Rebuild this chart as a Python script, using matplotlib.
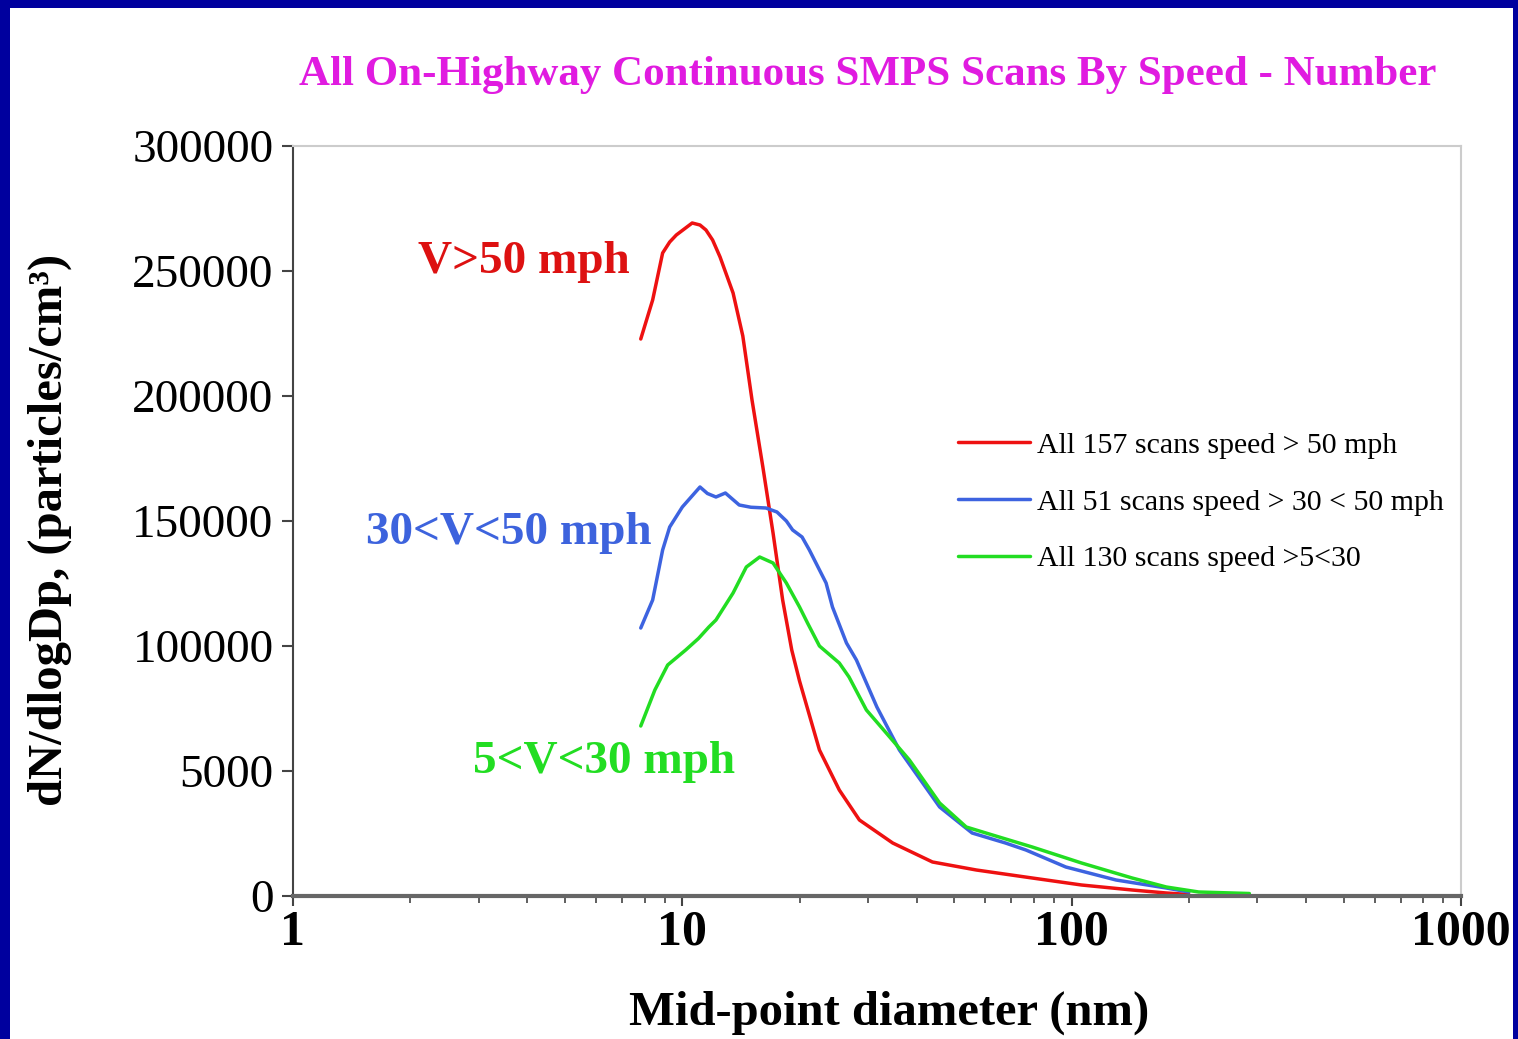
import matplotlib
matplotlib.use("Agg")
import matplotlib.pyplot as plt
from matplotlib.patches import Rectangle
from matplotlib.ticker import FixedLocator, FixedFormatter, LogLocator, NullFormatter

# ---------------- data ----------------
d_red = [7.82, 8.39, 8.9, 9.28, 9.65, 10.6, 11.1, 11.5, 11.96, 12.5, 13.5, 14.3,
         15.1, 16.1, 17.1, 18.1, 19.1, 20.0, 22.5, 25.3, 28.5, 34.7, 43.9, 56.9,
         79.2, 106, 143, 175, 200]
n_red = [222800, 238400, 257200, 261600, 264400, 269200, 268400, 266400, 262400,
         255600, 241200, 224000, 198400, 171600, 145200, 118400, 98400,
         86000, 58400, 42400, 30400, 21200, 13600, 10400, 7200, 4400, 2400, 1200, 600]

d_blue = [7.82, 8.39, 8.9, 9.28, 10.0, 11.1, 11.6, 12.2, 12.9, 14.0, 15.0, 16.4, 17.5,
          18.5, 19.2, 20.3, 21.2, 23.4, 24.3, 26.4, 28.0, 31.6, 36.1, 45.8, 55.5,
          67.6, 76.3, 96.6, 130, 175, 200]
n_blue = [107200, 118400, 138400, 147600, 155600, 163600, 161000, 159600, 161200,
          156400, 155500, 155200, 153600, 150000, 146400, 143600, 138400, 125200,
          115600, 101200, 94400, 75600, 58400, 35600, 25200, 21200, 18400, 11600,
          6400, 3200, 1600]

d_green = [7.82, 8.5, 9.17, 10.2, 11.0, 11.7, 12.2, 13.5, 14.6, 15.8, 17.1, 18.5, 20.0,
           21.0, 22.5, 25.3, 26.8, 29.7, 33.4, 38.3, 45.8, 53.6, 65.1, 79.2, 106, 143,
           175, 212, 286]
n_green = [68000, 82400, 92400, 98400, 103000, 107600, 110400, 121200, 131600, 135600,
           133200, 125200, 115600, 109000, 100000, 93200, 87600, 74400, 65200, 54400,
           37200, 27600, 23600, 19600, 13200, 7200, 3600, 1600, 1000]

legend_labels = ["All 157 scans speed > 50 mph",
                 "All 51 scans speed > 30 < 50 mph",
                 "All 130 scans speed >5<30"]
ytick_vals = [0, 50000, 100000, 150000, 200000, 250000, 300000]
ytick_labels = ["0", "5000", "100000", "150000", "200000", "250000", "300000"]
xtick_vals = [1, 10, 100, 1000]
xtick_labels = ["1", "10", "100", "1000"]

RED = "#EE1111"
BLUE = "#3D63E0"
GREEN = "#22DD22"
SERIF = ["Liberation Serif", "DejaVu Serif"]

W, H = 1518, 1039
fig = plt.figure(figsize=(W / 100, H / 100), dpi=100)
fig.patch.set_facecolor("#00009E")
fig.add_artist(Rectangle((10 / W, 0), (1513 - 10) / W, (H - 8) / H,
                         transform=fig.transFigure, facecolor="white",
                         edgecolor="none", zorder=-10))

ax = fig.add_axes([293 / W, 1 - 896 / H, (1461 - 293) / W, (896 - 146) / H])
ax.set_facecolor("white")

line_kw = dict(lw=2.5, solid_joinstyle="round", solid_capstyle="round")
ax.plot(d_red, n_red, color=RED, label=legend_labels[0], **line_kw)
ax.plot(d_blue, n_blue, color=BLUE, label=legend_labels[1], **line_kw)
ax.plot(d_green, n_green, color=GREEN, label=legend_labels[2], **line_kw)

ax.set_xscale("log")
ax.set_xlim(1, 1000)
ax.set_ylim(0, 300000)

ax.yaxis.set_major_locator(FixedLocator(ytick_vals))
ax.yaxis.set_major_formatter(FixedFormatter(ytick_labels))
ax.xaxis.set_major_locator(FixedLocator(xtick_vals))
ax.xaxis.set_major_formatter(FixedFormatter(xtick_labels))
ax.xaxis.set_minor_locator(LogLocator(base=10, subs=range(2, 10)))
ax.xaxis.set_minor_formatter(NullFormatter())

ax.tick_params(axis="y", direction="out", length=8, width=1.5, color="#444444",
               pad=6, labelsize=34)
ax.tick_params(axis="x", which="major", direction="out", length=7, width=1.5,
               color="#444444", pad=3, labelsize=36)
ax.tick_params(axis="x", which="minor", direction="out", length=5, width=1.2,
               color="#444444")
for lab in ax.get_yticklabels():
    lab.set_family(SERIF)
for lab in ax.get_xticklabels():
    lab.set_family(SERIF)
    lab.set_fontweight("bold")

ax.spines["left"].set_color("#444444")
ax.spines["left"].set_linewidth(1.5)
ax.spines["bottom"].set_color("#666666")
ax.spines["bottom"].set_linewidth(3)
ax.spines["top"].set_color("#CCCCCC")
ax.spines["top"].set_linewidth(1.5)
ax.spines["right"].set_color("#CCCCCC")
ax.spines["right"].set_linewidth(1.5)

# annotations
ax.text(2.09, 249200, "V>50 mph", color="#DD1111", fontsize=34, fontweight="bold",
        family=SERIF, ha="left", va="baseline")
ax.text(1.54, 140800, "30<V<50 mph", color="#3D63DD", fontsize=34, fontweight="bold",
        family=SERIF, ha="left", va="baseline")
ax.text(2.90, 49200, "5<V<30 mph", color=GREEN, fontsize=34, fontweight="bold",
        family=SERIF, ha="left", va="baseline")

leg = ax.legend(loc="upper left", bbox_to_anchor=(958 / W, 1 - 432 / H),
                bbox_transform=fig.transFigure, frameon=False, borderpad=0,
                borderaxespad=0, handlelength=2.4, handletextpad=0.25,
                labelspacing=1.0, prop={"family": SERIF, "size": 21.5})

fig.text(868 / W, 1 - 75 / H, "All On-Highway Continuous SMPS Scans By Speed - Number",
         color="#E01BE0", fontsize=31, fontweight="bold", family=SERIF,
         ha="center", va="center")

fig.text(889 / W, 1 - 1013 / H, "Mid-point diameter (nm)", fontsize=35,
         fontweight="bold", family=SERIF, ha="center", va="center")
fig.text(50 / W, 1 - 530 / H, "dN/dlogDp, (particles/cm³)", fontsize=35,
         fontweight="bold", family=SERIF, ha="center", va="center", rotation=90)

fig.savefig("out.png", dpi=100, facecolor=fig.get_facecolor())
